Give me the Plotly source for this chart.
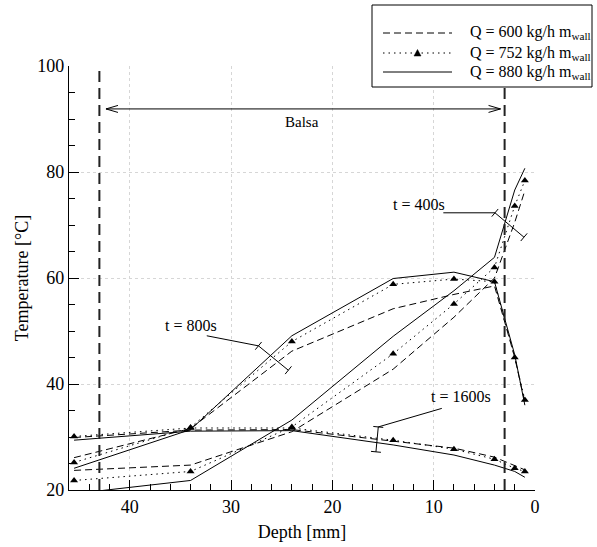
import math
import plotly.graph_objects as go

# ---------------- data ----------------
depth = [45.5, 34, 24, 14, 8, 4, 2, 1]

# t = 400 s
q600_t400 = [23.7, 24.7, 31.0, 42.8, 52.6, 60.0, 70.5, 76.5]
q752_t400 = [21.8, 23.5, 31.9, 45.7, 55.1, 62.0, 73.6, 78.4]
q880_t400 = [19.3, 21.8, 33.2, 49.0, 57.6, 63.9, 76.6, 80.7]
# t = 800 s
q600_t800 = [26.1, 31.6, 46.2, 54.2, 56.9, 58.5, 45.0, 36.5]
q752_t800 = [25.2, 31.8, 48.0, 58.8, 59.8, 59.3, 45.0, 37.0]
q880_t800 = [24.1, 31.4, 49.1, 59.9, 61.1, 59.3, 45.5, 36.0]
# t = 1600 s
q600_t1600 = [29.9, 31.3, 31.4, 29.2, 27.9, 26.2, 24.6, 23.8]
q752_t1600 = [30.1, 31.7, 31.7, 29.4, 27.7, 25.8, 24.1, 23.5]
q880_t1600 = [29.4, 31.1, 31.2, 28.5, 26.6, 24.7, 23.5, 22.4]

series_names = ["Q = 600 kg/h m<sub>wall</sub>",
                "Q = 752 kg/h m<sub>wall</sub>",
                "Q = 880 kg/h m<sub>wall</sub>"]

balsa_edges = [43, 3]          # depth of balsa core boundaries [mm]
x_range = [46, 0]
y_range = [20, 100]

FONT = "Liberation Serif, Times New Roman, serif"
W, H = 597, 547

fig = go.Figure()

DASH_600 = "7px,4px"
DOT_752 = "1.5px,4px"
styles = [
    dict(mode="lines", line=dict(color="black", width=1, dash=DASH_600)),
    dict(mode="lines+markers", line=dict(color="black", width=1, dash=DOT_752),
         marker=dict(symbol="triangle-up", size=7, color="black")),
    dict(mode="lines", line=dict(color="black", width=1)),
]
groups = [
    [q600_t400, q600_t800, q600_t1600],
    [q752_t400, q752_t800, q752_t1600],
    [q880_t400, q880_t800, q880_t1600],
]
for name, st, curves in zip(series_names, styles, groups):
    for i, vals in enumerate(curves):
        fig.add_trace(go.Scatter(x=depth, y=vals, name=name, legendgroup=name,
                                 showlegend=False, hoverinfo="skip", **st))

# balsa boundaries
for d in balsa_edges:
    fig.add_trace(go.Scatter(x=[d, d], y=y_range, mode="lines", showlegend=False,
                             hoverinfo="skip",
                             line=dict(color="#222", width=2, dash="11px,6px")))

# -------- helpers for annotation geometry (pixel-aware) --------
X0_PX, X1_PX = 69, 535
Y0_PX, Y1_PX = 490, 66
PX_X = (X1_PX - X0_PX) / (x_range[0] - x_range[1])
PX_Y = (Y0_PX - Y1_PX) / (y_range[1] - y_range[0])


def scr(p):
    return (-p[0] * PX_X, -p[1] * PX_Y)


def dat(s):
    return (-s[0] / PX_X, -s[1] / PX_Y)


def offset(p, v, k):
    s = scr(p)
    return dat((s[0] + v[0] * k, s[1] + v[1] * k))


def tbar_path(lead_start, p0, p1, half=5):
    s0, s1 = scr(p0), scr(p1)
    dx, dy = s1[0] - s0[0], s1[1] - s0[1]
    L = math.hypot(dx, dy)
    n = (-dy / L, dx / L)
    xs, ys = [lead_start[0], p0[0], p1[0], None], [lead_start[1], p0[1], p1[1], None]
    for p in (p0, p1):
        a, b = offset(p, n, half), offset(p, n, -half)
        xs += [a[0], b[0], None]
        ys += [a[1], b[1], None]
    return xs, ys


def arrow_path(p_tip, p_from, length=12, half=3.5):
    s0, s1 = scr(p_tip), scr(p_from)
    dx, dy = s1[0] - s0[0], s1[1] - s0[1]
    L = math.hypot(dx, dy)
    u = (dx / L, dy / L)
    n = (-u[1], u[0])
    ts = scr(p_tip)
    a = dat((ts[0] + u[0] * length + n[0] * half, ts[1] + u[1] * length + n[1] * half))
    b = dat((ts[0] + u[0] * length - n[0] * half, ts[1] + u[1] * length - n[1] * half))
    return [a[0], p_tip[0], b[0], None], [a[1], p_tip[1], b[1], None]


# time labels: (text, text position, leader start, cross start, cross end)
time_labels = [
    ("t = 400s", (11.5, 73.8), (9.05, 72.3), (3.95, 72.3), (1.09, 67.7)),
    ("t = 800s", (34.0, 51.1), (32.4, 49.1), (27.3, 47.2), (24.35, 42.6)),
    ("t = 1600s", (7.3, 37.6), (9.2, 35.4), (15.47, 31.9), (15.7, 27.2)),
]
for txt, tpos, lead, c0, c1 in time_labels:
    xs, ys = tbar_path(lead, c0, c1)
    fig.add_trace(go.Scatter(x=xs, y=ys, mode="lines", showlegend=False, hoverinfo="skip",
                             line=dict(color="black", width=1)))
    fig.add_annotation(x=tpos[0], y=tpos[1], xref="x", yref="y", text=txt,
                       showarrow=False, font=dict(family=FONT, size=16, color="black"))

# Balsa double arrow
balsa_arrow_y = 91.9
ax0, ax1 = 42.35, 3.4
xs = [ax0, ax1, None]
ys = [balsa_arrow_y, balsa_arrow_y, None]
for tip, frm in (((ax0, balsa_arrow_y), (ax1, balsa_arrow_y)),
                 ((ax1, balsa_arrow_y), (ax0, balsa_arrow_y))):
    a, b = arrow_path(tip, frm)
    xs += a
    ys += b
fig.add_trace(go.Scatter(x=xs, y=ys, mode="lines", showlegend=False, hoverinfo="skip",
                         line=dict(color="black", width=1)))
fig.add_annotation(x=23.0, y=89.4, xref="x", yref="y", text="Balsa", showarrow=False,
                   font=dict(family=FONT, size=15, color="black"))

# -------- legend box (drawn in paper space, pixel-placed) --------
LEG_BOX = (372, 5, 592, 87)      # left, top, right, bottom [px]
LEG_ROWS = [33, 53, 72]          # row centre [px]
LEG_SAMPLE = (383, 452)          # sample line x extent [px]
LEG_TEXT_X = 468


def px2paper(px, py):
    return px / W, 1 - py / H


shapes = []
l, t = px2paper(LEG_BOX[0], LEG_BOX[1])
r, b = px2paper(LEG_BOX[2], LEG_BOX[3])
shapes.append(dict(type="rect", xref="paper", yref="paper", x0=l, y0=b, x1=r, y1=t,
                   line=dict(color="black", width=1), fillcolor="white", layer="above"))
sample_dash = [DASH_600, DOT_752, "solid"]
for row, dash, name in zip(LEG_ROWS, sample_dash, series_names):
    x0, y0 = px2paper(LEG_SAMPLE[0], row)
    x1, _ = px2paper(LEG_SAMPLE[1], row)
    shapes.append(dict(type="line", xref="paper", yref="paper", x0=x0, y0=y0, x1=x1, y1=y0,
                       line=dict(color="black", width=1, dash=dash), layer="above"))
    tx, ty = px2paper(LEG_TEXT_X, row)
    fig.add_annotation(x=tx, y=ty, xref="paper", yref="paper", text=name, showarrow=False,
                       xanchor="left", yanchor="middle",
                       font=dict(family=FONT, size=16, color="black"))
# triangle marker on the 752 sample
cx = (LEG_SAMPLE[0] + LEG_SAMPLE[1]) / 2
cy = LEG_ROWS[1]
tri = [(cx - 3.5, cy + 3), (cx + 3.5, cy + 3), (cx, cy - 3.5)]
tri_p = [px2paper(*p) for p in tri]
path = "M {} {} L {} {} L {} {} Z".format(tri_p[0][0], tri_p[0][1], tri_p[1][0], tri_p[1][1],
                                         tri_p[2][0], tri_p[2][1])
shapes.append(dict(type="path", xref="paper", yref="paper", path=path,
                   fillcolor="black", line=dict(color="black", width=0.5), layer="above"))

axis_common = dict(showline=True, linecolor="black", linewidth=1.2, mirror=False,
                   zeroline=False, ticks="inside", ticklen=10, tickcolor="black",
                   tickwidth=1, showgrid=True, gridcolor="#d6d6d6", griddash="dot",
                   gridwidth=1, tickfont=dict(family=FONT, size=18, color="black"))

fig.update_layout(
    width=W, height=H,
    margin=dict(l=0, r=0, t=0, b=0, autoexpand=False),
    paper_bgcolor="white", plot_bgcolor="white",
    font=dict(family=FONT, size=17, color="black"),
    showlegend=False,
    shapes=shapes,
    xaxis=dict(range=x_range, domain=[X0_PX / W, X1_PX / W], dtick=10, tick0=0,
               minor=dict(ticks="inside", ticklen=6, dtick=2, tick0=0, tickcolor="black",
                          showgrid=False),
               title=dict(text="Depth [mm]", standoff=9,
                          font=dict(family=FONT, size=18)),
               **axis_common),
    yaxis=dict(range=y_range, domain=[(H - Y0_PX) / H, (H - Y1_PX) / H], dtick=20, tick0=0,
               minor=dict(ticks="inside", ticklen=6, dtick=5, tick0=0, tickcolor="black",
                          showgrid=False),
               title=dict(text="Temperature [°C]", standoff=3,
                          font=dict(family=FONT, size=18)),
               **axis_common),
)

fig.write_html("out.html",
               config={"displayModeBar": False},
               post_script="document.body.style.margin='0';"
                           "document.body.style.overflow='hidden';")
